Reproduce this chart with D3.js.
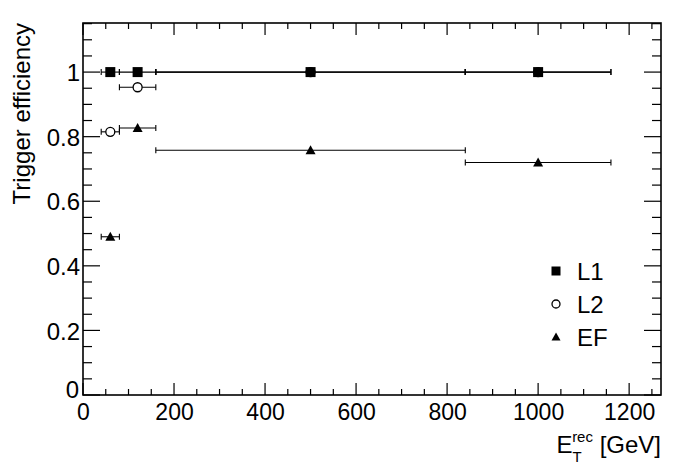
<!DOCTYPE html>
<html><head><meta charset="utf-8">
<script src="https://cdn.jsdelivr.net/npm/d3@7"></script>
<style>body{margin:0;background:#fff}svg{display:block}text{font-family:"Liberation Sans",Arial,sans-serif;fill:#000}</style>
</head><body><svg id="c" width="696" height="472"></svg>
<script>
const seriesNames = ["L1", "L2", "EF"];
const xCenters = [60, 120, 500, 1000];
const xLow = [40, 80, 160, 840];
const xHigh = [80, 160, 840, 1160];
const valuesL1 = [1.0, 1.0, 1.0, 1.0];
const valuesL2 = [0.815, 0.953, 1.0, 1.0];
const valuesEF = [0.49, 0.827, 0.758, 0.72];
const xTicks = [0, 200, 400, 600, 800, 1000, 1200];
const yTicks = [0, 0.2, 0.4, 0.6, 0.8, 1];

const W = 696, H = 472;
const m = {l: 83, t: 23, r: 35, b: 77};
const svg = d3.select("#c");
const x = d3.scaleLinear().domain([0, 1270]).range([m.l, W - m.r]);
const y = d3.scaleLinear().domain([0, 1.152]).range([H - m.b, m.t]);

const g = svg.append("g");
const xMinor = d3.range(0, 1270, 50);
const yMinor = d3.range(0, 1.152, 0.05);
const X0 = x(0), X1 = x(1270), Y0 = y(0), Y1 = y(1.152);
xMinor.forEach(v => {
  const major = v % 200 === 0;
  const L = major ? 12 : 6;
  g.append("line").attr("x1", x(v)).attr("x2", x(v)).attr("y1", Y0).attr("y2", Y0 - L).attr("stroke", "#000").attr("stroke-width", 1.2);
  g.append("line").attr("x1", x(v)).attr("x2", x(v)).attr("y1", Y1).attr("y2", Y1 + L).attr("stroke", "#000").attr("stroke-width", 1.2);
});
yMinor.forEach(v => {
  const major = Math.abs(v / 0.2 - Math.round(v / 0.2)) < 1e-6;
  const L = major ? 17 : 9;
  g.append("line").attr("x1", X0).attr("x2", X0 + L).attr("y1", y(v)).attr("y2", y(v)).attr("stroke", "#000").attr("stroke-width", 1.2);
  g.append("line").attr("x1", X1).attr("x2", X1 - L).attr("y1", y(v)).attr("y2", y(v)).attr("stroke", "#000").attr("stroke-width", 1.2);
});
g.append("rect").attr("x", X0).attr("y", Y1).attr("width", X1 - X0).attr("height", Y0 - Y1)
  .attr("fill", "none").attr("stroke", "#000").attr("stroke-width", 1.6);

const xAxis = svg.append("g").attr("transform", `translate(0,${Y0})`)
  .call(d3.axisBottom(x).tickValues(xTicks).tickSize(0).tickPadding(9).tickFormat(d3.format("d")));
xAxis.select(".domain").remove();
xAxis.selectAll("text").attr("font-size", 23).attr("font-family", "Liberation Sans, Arial, sans-serif").attr("dy", "0.71em");
const yAxis = svg.append("g").attr("transform", `translate(${X0},0)`)
  .call(d3.axisLeft(y).tickValues(yTicks).tickSize(0).tickPadding(3).tickFormat(d => d3.format("")(d)));
yAxis.select(".domain").remove();
yAxis.selectAll("text").attr("font-size", 24).attr("font-family", "Liberation Sans, Arial, sans-serif").attr("dy", "0.36em");
yAxis.selectAll(".tick").filter(d => d === 0).select("text").attr("dy", "0.12em").attr("dx", "-1");

svg.append("text").attr("transform", `translate(30,${m.t}) rotate(-90)`).attr("text-anchor", "end")
  .attr("font-size", 24).text("Trigger efficiency");
const xt = svg.append("text").attr("x", X1).attr("y", 453).attr("text-anchor", "end").attr("font-size", 24);
xt.append("tspan").text("E");
xt.append("tspan").attr("font-size", 15).attr("dy", 9).text("T");
xt.append("tspan").attr("font-size", 15).attr("dx", -9).attr("dy", -20).text("rec");
xt.append("tspan").attr("dy", 11).text(" [GeV]");

const allSeries = [valuesEF, valuesL2, valuesL1];
const order = ["EF", "L2", "L1"];
const dataG = svg.append("g");
function marker(sel, name, cx, cy, s) {
  if (name === "L1") sel.append("rect").attr("x", cx - s/2).attr("y", cy - s/2).attr("width", s).attr("height", s).attr("fill", "#000");
  else if (name === "L2") sel.append("circle").attr("cx", cx).attr("cy", cy).attr("r", s/2 - 0.5).attr("fill", "#fff").attr("stroke", "#000").attr("stroke-width", 1.3);
  else sel.append("path").attr("d", `M${cx},${cy - s*0.5}L${cx + s*0.5},${cy + s*0.4}L${cx - s*0.5},${cy + s*0.4}Z`).attr("fill", "#000");
}
order.forEach((name, k) => {
  const vals = allSeries[k];
  vals.forEach((v, i) => {
    const yy = y(v);
    dataG.append("line").attr("x1", x(xLow[i])).attr("x2", x(xHigh[i])).attr("y1", yy).attr("y2", yy).attr("stroke", "#000").attr("stroke-width", 1.1);
    [xLow[i], xHigh[i]].forEach(xe => dataG.append("line").attr("x1", x(xe)).attr("x2", x(xe)).attr("y1", yy - 3).attr("y2", yy + 3).attr("stroke", "#000").attr("stroke-width", 1.1));
  });
});
order.forEach((name, k) => {
  const vals = allSeries[k];
  vals.forEach((v, i) => marker(dataG, name, x(xCenters[i]), y(v), 10));
});

const leg = svg.append("g");
seriesNames.forEach((name, i) => {
  const cy = 271 + i * 33;
  marker(leg, name, 556, cy, 9);
  leg.append("text").attr("x", 577).attr("y", cy).attr("dy", "0.36em").attr("font-size", 24).text(name);
});
</script></body></html>
